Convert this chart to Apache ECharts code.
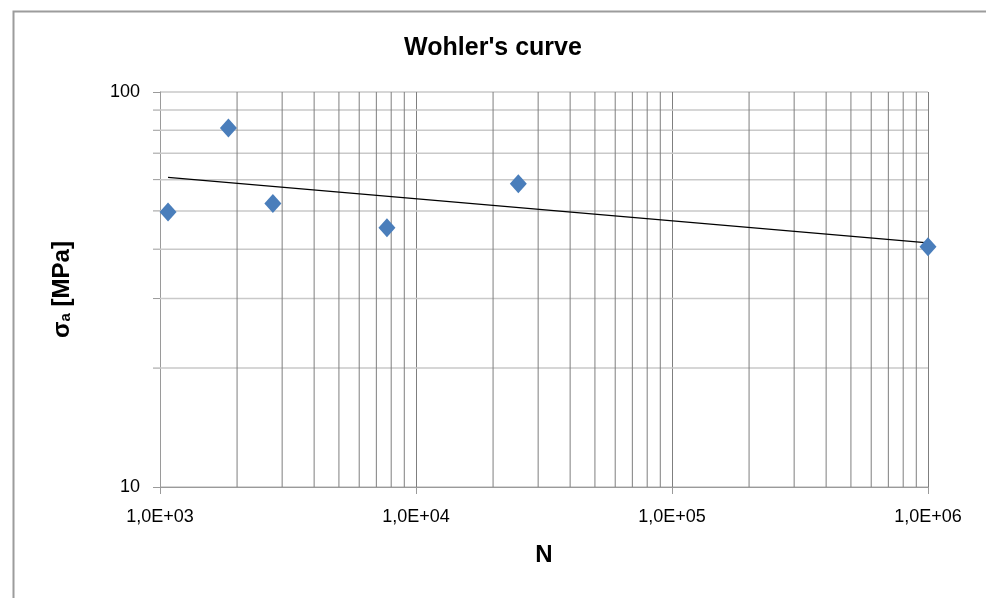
<!DOCTYPE html>
<html>
<head>
<meta charset="utf-8">
<title>Wohler's curve</title>
<script src="https://cdn.jsdelivr.net/npm/echarts@6/dist/echarts.min.js"></script>
<style>
  html, body { margin: 0; padding: 0; background: #ffffff; }
  #chart { width: 986px; height: 598px; }
</style>
</head>
<body>
<div id="chart"></div>
<script>
// Fatigue test results: cycles to failure N vs. stress amplitude (MPa)
const cycles = [1075, 1850, 2760, 7700, 25100, 1000000];
const stressAmp = [49.7, 81.1, 52.2, 45.3, 58.6, 40.6];

// Power trendline end points (straight on log-log axes)
const trendN = [1075, 1000000];
const trendSigma = [60.8, 41.5];

// Axis ranges and labelled decades
const xRange = [1e3, 1e6];
const yRange = [10, 100];
const xTickLabels = ['1,0E+03', '1,0E+04', '1,0E+05', '1,0E+06'];
const yTickLabels = ['10', '100'];

// Intermediate (2..9 x decade) grid positions
const xMinor = [];
for (let d = 1e3; d < 1e6; d *= 10) {
  for (let m = 2; m <= 9; m++) xMinor.push(m * d);
}
const yMinor = [];
for (let m = 2; m <= 9; m++) yMinor.push(m * 10);

const FONT = "'Liberation Sans', Arial, sans-serif";
const V_GRID = '#7f7f7f';
const H_GRID = '#c9c9c9';

const chart = echarts.init(document.getElementById('chart'), null, { renderer: 'canvas' });

const option = {
  backgroundColor: '#ffffff',
  animation: false,
  title: {
    text: "Wohler's curve",
    left: 'center',
    top: 31,
    textStyle: { fontFamily: FONT, fontSize: 25, fontWeight: 'bold', color: '#000000' }
  },
  graphic: [{
    type: 'rect',
    left: 11, top: 9,
    shape: { width: 1000, height: 700 },
    style: { fill: 'none', stroke: '#9c9c9c', lineWidth: 2 },
    silent: true
  }],
  grid: { left: 160, right: 58, top: 92, bottom: 111, containLabel: false },
  xAxis: {
    type: 'log',
    logBase: 10,
    min: xRange[0],
    max: xRange[1],
    name: 'N',
    nameLocation: 'middle',
    nameGap: 56,
    nameTextStyle: { fontFamily: FONT, fontSize: 24, fontWeight: 'bold', color: '#000000' },
    axisLine: { show: true, lineStyle: { color: '#9a9a9a', width: 1 } },
    axisTick: { show: true, length: 7, lineStyle: { color: '#9a9a9a' } },
    axisLabel: {
      margin: 21,
      fontFamily: FONT, fontSize: 18, color: '#000000',
      formatter: function (v) {
        const i = Math.round(Math.log10(v)) - 3;
        return xTickLabels[i] || '';
      }
    },
    splitLine: { show: true, lineStyle: { color: V_GRID, width: 1 } }
  },
  yAxis: {
    type: 'log',
    logBase: 10,
    min: yRange[0],
    max: yRange[1],
    name: '{s|σ}{sub|a}{s| [MPa]}',
    nameLocation: 'middle',
    nameRotate: 90,
    nameGap: 86,
    nameTextStyle: {
      rich: {
        s: { fontFamily: FONT, fontSize: 24, fontWeight: 'bold', color: '#000000' },
        sub: { fontFamily: FONT, fontSize: 15, fontWeight: 'bold', color: '#000000', padding: [8, 0, 0, 0] }
      }
    },
    axisLine: { show: true, lineStyle: { color: '#9a9a9a', width: 1 } },
    axisTick: { show: true, length: 7, lineStyle: { color: '#9a9a9a' } },
    axisLabel: {
      margin: 20,
      fontFamily: FONT, fontSize: 18, color: '#000000',
      formatter: function (v) {
        const i = Math.round(Math.log10(v)) - 1;
        return yTickLabels[i] || '';
      }
    },
    splitLine: { show: true, lineStyle: { color: H_GRID, width: 1.5 } }
  },
  series: [
    {
      // minor horizontal grid lines with outward ticks
      type: 'custom',
      silent: true,
      clip: false,
      z: 1,
      data: yMinor.map(v => [xRange[0], v]),
      encode: { x: 0, y: 1 },
      renderItem: function (params, api) {
        const y = api.value(1);
        const p0 = api.coord([xRange[0], y]);
        const p1 = api.coord([xRange[1], y]);
        return {
          type: 'group',
          children: [
            { type: 'line', shape: { x1: p0[0], y1: p0[1], x2: p1[0], y2: p1[1] },
              style: { stroke: H_GRID, lineWidth: 1.5 } },
            { type: 'line', shape: { x1: p0[0] - 7, y1: p0[1], x2: p0[0], y2: p0[1] },
              style: { stroke: '#9a9a9a', lineWidth: 1 } }
          ]
        };
      }
    },
    {
      // minor vertical grid lines
      type: 'custom',
      silent: true,
      clip: false,
      z: 2,
      data: xMinor.map(v => [v, yRange[0]]),
      encode: { x: 0, y: 1 },
      renderItem: function (params, api) {
        const x = api.value(0);
        const p0 = api.coord([x, yRange[0]]);
        const p1 = api.coord([x, yRange[1]]);
        return {
          type: 'line',
          shape: { x1: p0[0], y1: p0[1], x2: p1[0], y2: p1[1] },
          style: { stroke: V_GRID, lineWidth: 1 }
        };
      }
    },
    {
      name: 'Trend',
      type: 'line',
      data: trendN.map((n, i) => [n, trendSigma[i]]),
      showSymbol: false,
      symbol: 'none',
      lineStyle: { color: '#000000', width: 1.2 },
      z: 3
    },
    {
      name: 'Tests',
      type: 'scatter',
      data: cycles.map((n, i) => [n, stressAmp[i]]),
      symbol: 'diamond',
      symbolSize: [17, 19],
      itemStyle: { color: '#4a7ebb', opacity: 1 },
      z: 4
    }
  ]
};

chart.setOption(option);
</script>
</body>
</html>
